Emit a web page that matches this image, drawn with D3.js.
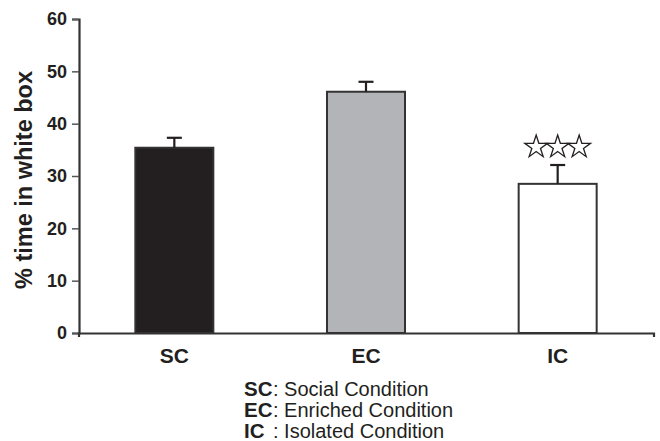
<!DOCTYPE html>
<html><head><meta charset="utf-8">
<script src="https://cdn.jsdelivr.net/npm/d3@7"></script>
<style>body{margin:0;background:#fff}svg{display:block}text{font-family:"Liberation Sans",Arial,Helvetica,sans-serif}</style>
</head><body>
<svg id="c" width="660" height="441"></svg>
<script>
const categories = ["SC", "EC", "IC"];
const means = [35.4, 46.1, 28.5];
const errors = [1.9, 1.9, 3.6];
const fills = ["#231f20", "#b3b4b7", "#ffffff"];
const significance = ["", "", "***"];
const yTicks = [0, 10, 20, 30, 40, 50, 60];
const legendAbbr = ["SC", "EC", "IC"];
const legendText = [": Social Condition", ": Enriched Condition", ": Isolated Condition"];
const yTitle = "% time in white box";

const svg = d3.select("#c");
const x = d3.scaleBand().domain(categories).range([78.5, 653.5]).paddingInner(0.593).paddingOuter(0.2965);
const y = d3.scaleLinear().domain([0, 60]).range([333, 19]);
const ink = "#231f20";

// bars
svg.append("g").selectAll("rect").data(categories).join("rect")
  .attr("x", d => x(d)).attr("width", x.bandwidth())
  .attr("y", (d, i) => y(means[i])).attr("height", (d, i) => y(0) - y(means[i]))
  .attr("fill", (d, i) => fills[i]).attr("stroke", "#333").attr("stroke-width", 2);

// error bars
const eb = svg.append("g").attr("stroke", ink).attr("stroke-width", 2.2);
categories.forEach((c, i) => {
  const cx = x(c) + x.bandwidth() / 2;
  eb.append("line").attr("x1", cx).attr("x2", cx).attr("y1", y(means[i])).attr("y2", y(means[i] + errors[i]));
  eb.append("line").attr("x1", cx - 7.5).attr("x2", cx + 7.5).attr("y1", y(means[i] + errors[i])).attr("y2", y(means[i] + errors[i]));
});

// significance stars
categories.forEach((c, i) => {
  const n = significance[i].length;
  const cx = x(c) + x.bandwidth() / 2;
  for (let k = 0; k < n; k++) {
    svg.append("path").attr("d", d3.symbol(d3.symbolStar, 160)())
      .attr("transform", `translate(${cx + (k - (n - 1) / 2) * 21.5},${y(means[i] + errors[i]) - 18})`)
      .attr("fill", "#fff").attr("stroke", ink).attr("stroke-width", 1.3).attr("stroke-linejoin", "miter");
  }
});

// y axis
const ya = svg.append("g").attr("transform", "translate(79,0)")
  .call(d3.axisLeft(y).tickValues(yTicks).tickSize(7).tickPadding(5));
ya.select(".domain").attr("stroke", "#333").attr("stroke-width", 2.2);
ya.selectAll(".tick line").attr("stroke", "#555").attr("stroke-width", 1.5);
ya.selectAll(".tick text").attr("font-size", 18).attr("font-weight", "bold").attr("fill", ink)
  .attr("font-family", '"Liberation Sans",Arial,sans-serif');

// x axis
const xa = svg.append("g").attr("transform", "translate(0,333)")
  .call(d3.axisBottom(x).tickSizeInner(0).tickSizeOuter(4).tickPadding(15));
xa.select(".domain").attr("stroke", "#333").attr("stroke-width", 2.2);
xa.selectAll(".tick text").attr("font-size", 21).attr("font-weight", "bold").attr("fill", ink)
  .attr("font-family", '"Liberation Sans",Arial,sans-serif');

// y title
svg.append("text").attr("transform", "translate(32,180) rotate(-90)")
  .attr("text-anchor", "middle").attr("font-size", 23.5).attr("font-weight", "bold").attr("fill", ink)
  .text(yTitle);

// legend
const lg = svg.append("g");
legendAbbr.forEach((a, i) => {
  const yy = 396 + i * 21;
  lg.append("text").attr("x", 244).attr("y", yy).attr("font-size", 20.5).attr("font-weight", "bold").attr("fill", ink).text(a);
  lg.append("text").attr("x", 273).attr("y", yy).attr("font-size", 20).attr("fill", ink).text(legendText[i]);
});
</script>
</body></html>
